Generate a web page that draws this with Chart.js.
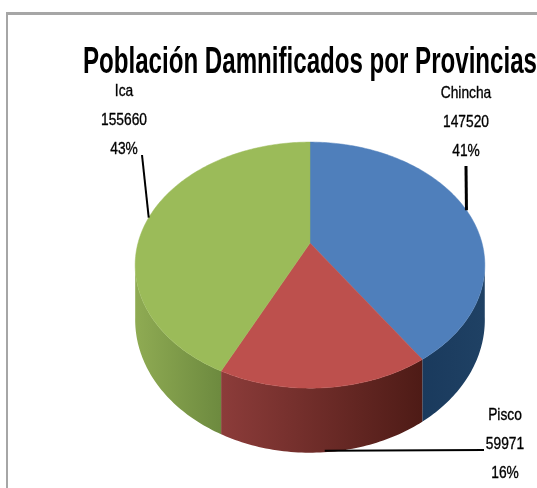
<!DOCTYPE html>
<html>
<head>
<meta charset="utf-8">
<script src="https://cdn.jsdelivr.net/npm/chart.js@4"></script>
<style>
html,body{margin:0;padding:0;background:#fff;width:537px;height:488px;overflow:hidden}
#frame{position:absolute;left:6px;top:12px;right:-5px;bottom:-5px;border-top:3px solid #a6a6a6;border-left:2px solid #a6a6a6}
#wrap{position:absolute;left:0;top:0;width:537px;height:488px}
canvas{filter:blur(0.5px)}
</style>
</head>
<body>
<div id="frame"></div>
<div id="wrap"><canvas id="c" width="537" height="488"></canvas></div>
<script>
const titleText = 'Población Damnificados por Provincias';
const categories = ['Chincha', 'Pisco', 'Ica'];
const population = [147520, 59971, 155660];
const percentLabels = ['41%', '16%', '43%'];

const topColors = ['#4f7fbb', '#bd504d', '#9bbb59'];
const sideColors = [['#1a3a5d', '#1f4164'], ['#8c3c3a', '#4e1b16'], ['#8fab53', '#6d8a3f']];
const labelCentres = [[466, 93], [505, 415], [124, 91]];
const labelOffsets = [0, 29, 58];
const leaderEnds = [[466, 166], [484, 450], [142, 155]];
const leaderWidths = [3, 2, 2];

const FONT = '"Liberation Sans",sans-serif';
const LABEL_SQUEEZE = 0.81;
const TILT = 0.6924, PERSP = 0.179, DEPTH = 53, SILHOUETTE = 0.15;

function project(arc, angle, lower) {
  const u = Math.cos(angle), v = Math.sin(angle);
  const w = 1 - PERSP * v;
  return {
    x: arc.x + arc.outerRadius * u / w,
    y: arc.y + arc.outerRadius * TILT * v / w + (lower ? DEPTH / w : 0)
  };
}

const pie3d = {
  id: 'pie3d',
  beforeDatasetDraw(chart, args) {
    const ctx = chart.ctx;
    const arcs = args.meta.data;
    const STEP = Math.PI / 180;
    arcs.forEach((arc, i) => {
      const pts = [];
      for (let a = arc.startAngle; a < arc.endAngle; a += STEP) pts.push(a);
      pts.push(arc.endAngle);
      const vis = pts.filter(a => Math.sin(a) >= SILHOUETTE);
      if (vis.length < 2) return;
      const up = vis.map(a => project(arc, a, false));
      const low = vis.map(a => project(arc, a, true)).reverse();
      const xs = up.map(p => p.x);
      const g = ctx.createLinearGradient(Math.min(...xs), 0, Math.max(...xs), 0);
      g.addColorStop(0, sideColors[i][0]);
      g.addColorStop(1, sideColors[i][1]);
      ctx.fillStyle = g;
      ctx.beginPath();
      up.concat(low).forEach((q, n) => n ? ctx.lineTo(q.x, q.y) : ctx.moveTo(q.x, q.y));
      ctx.closePath();
      ctx.fill();
    });
    arcs.forEach((arc) => {
      ctx.beginPath();
      ctx.moveTo(arc.x, arc.y);
      for (let a = arc.startAngle; a < arc.endAngle; a += STEP) {
        const q = project(arc, a, false); ctx.lineTo(q.x, q.y);
      }
      const e = project(arc, arc.endAngle, false); ctx.lineTo(e.x, e.y);
      ctx.closePath();
      ctx.fillStyle = arc.options.backgroundColor;
      ctx.strokeStyle = arc.options.backgroundColor;
      ctx.lineWidth = 0.5;
      ctx.fill(); ctx.stroke();
    });
    return false;
  },
  afterDatasetsDraw(chart) {
    const ctx = chart.ctx;
    const arcs = chart.getDatasetMeta(0).data;
    ctx.save();
    ctx.strokeStyle = '#000';
    arcs.forEach((arc, i) => {
      const mid = (arc.startAngle + arc.endAngle) / 2;
      const front = Math.sin(mid) > 0.9;
      const s = project(arc, mid, front);
      ctx.lineWidth = leaderWidths[i];
      ctx.beginPath(); ctx.moveTo(s.x, s.y - (front ? 1.5 : 0));
      ctx.lineTo(leaderEnds[i][0], leaderEnds[i][1]); ctx.stroke();
    });
    ctx.fillStyle = '#000'; ctx.textAlign = 'center'; ctx.textBaseline = 'middle';
    ctx.font = '17px ' + FONT;
    ctx.lineWidth = 0.35;
    categories.forEach((name, i) => {
      const texts = [name, String(population[i]), percentLabels[i]];
      texts.forEach((t, n) => {
        const mw = ctx.measureText(t).width * LABEL_SQUEEZE;
        const y = labelCentres[i][1] + labelOffsets[n];
        ctx.fillText(t, labelCentres[i][0], y, mw);
        ctx.strokeText(t, labelCentres[i][0], y, mw);
      });
    });
    ctx.restore();
  }
};

new Chart(document.getElementById('c'), {
  type: 'pie',
  data: {
    labels: categories,
    datasets: [{ data: population, backgroundColor: topColors, borderWidth: 0, radius: 172 }]
  },
  plugins: [pie3d],
  options: {
    responsive: false,
    animation: false,
    layout: { padding: { left: 83, bottom: 87 } },
    plugins: {
      legend: { display: false },
      tooltip: { enabled: false },
      title: {
        display: true, text: titleText, align: 'end', color: '#000',
        font: { family: FONT, size: 36, weight: 'bold', lineHeight: 1.2 },
        padding: { top: 41, bottom: 1 }
      }
    }
  }
});
</script>
</body>
</html>
